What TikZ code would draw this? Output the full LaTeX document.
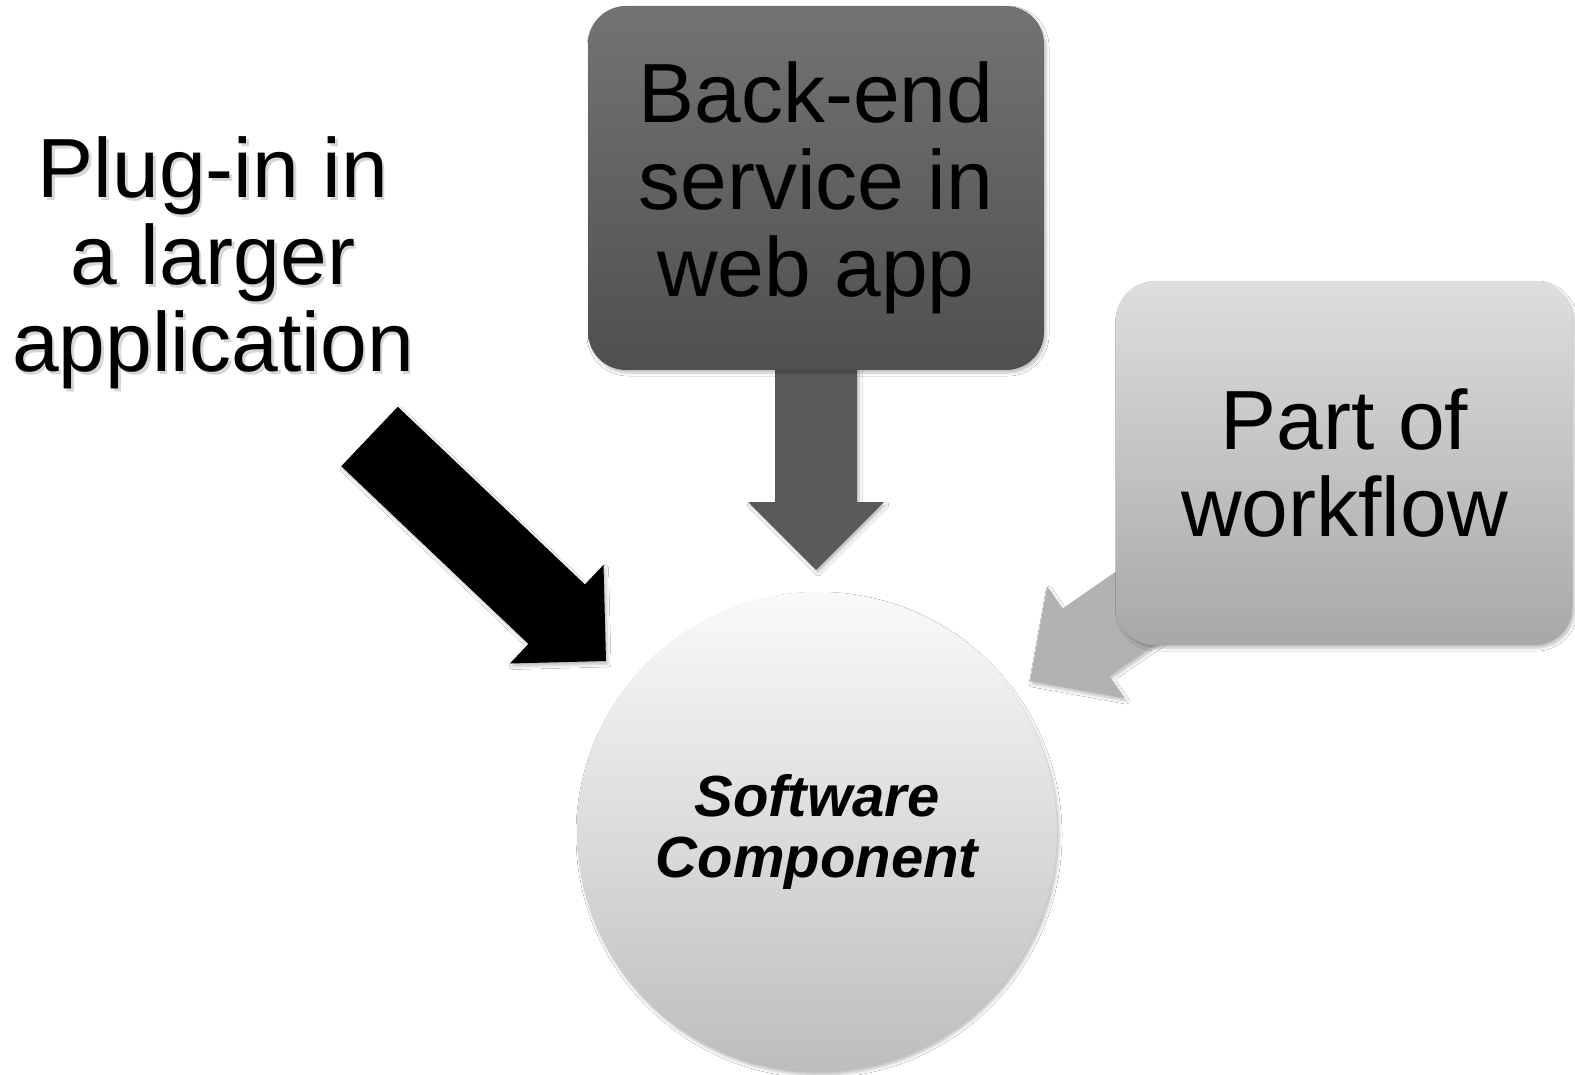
\documentclass[tikz,border=0pt]{standalone}
\usepackage{fontspec}
\setmainfont{Liberation Sans}
\usetikzlibrary{calc,shadows.blur,backgrounds}
\definecolor{darktop}{HTML}{737373}
\definecolor{darkbot}{HTML}{4F4F4F}
\definecolor{darkarrow}{HTML}{5A5A5A}
\definecolor{lighttop}{HTML}{DEDEDE}
\definecolor{lightbot}{HTML}{A8A8A8}
\definecolor{lightarrow}{HTML}{B2B2B2}
\definecolor{circtop}{HTML}{FAFAFA}
\definecolor{circbot}{HTML}{BDBDBD}
\newcommand\blockarrow[3]{%
  \coordinate (ba-b) at ($(#3)!68pt!(#2)$);
  \path[#1] ($(#2)!41pt!90:(#3)$) -- ($(ba-b)!41pt!90:(#3)$) -- ($(ba-b)!68pt!90:(#3)$)
    -- (#3) -- ($(ba-b)!68pt!-90:(#3)$) -- ($(ba-b)!41pt!-90:(#3)$) -- ($(#2)!41pt!-90:(#3)$) -- cycle;}
\begin{document}
\begin{tikzpicture}[x=1pt,y=-1pt,
  bigtext/.style={font=\fontsize{84}{87}\selectfont, align=center, inner sep=0pt},
  softshadow/.style={blur shadow={shadow xshift=2pt, shadow yshift=-3pt, shadow blur radius=3pt, shadow opacity=25}},
  roundbox/.style={rounded corners=38pt, minimum width=456pt, minimum height=364pt, inner sep=0pt, softshadow},
  darkbox/.style={roundbox, top color=darktop, bottom color=darkbot},
  lightbox/.style={roundbox, top color=lighttop, bottom color=lightbot},
  centre/.style={circle, minimum size=480pt, inner sep=0pt, top color=circtop, bottom color=circbot, softshadow,
    font=\fontsize{58}{61}\selectfont\bfseries\itshape, align=center},
  blackarrow/.style={fill=black, softshadow},
  greyarrow/.style={fill=darkarrow, softshadow},
  palearrow/.style={fill=lightarrow, softshadow}
]
\useasboundingbox (0,0) rectangle (1575,1075);

% nodes
\node[bigtext, text=black!40, text opacity=0.4] (plugsh) at (215.5,266) {Plug-in in\\a larger\\application};
\node[bigtext] (plug) at (213,263) {Plug-in in\\a larger\\application};
\node[darkbox, bigtext] (be) at (816,188) {Back-end\\service in\\web app};
\node[lightbox, bigtext] (pw) at (1344.5,463) {Part of\\workflow};
\node[centre] (sc) at (817,832) {Software\\Component};

\coordinate (plugtail) at (369.5,436.5);
\coordinate (plugtip) at (606,661);
\coordinate (betip) at (816,570);
\coordinate (pwtip) at (1030,681);

\begin{pgfonlayer}{background}
\fill[white] (0,0) rectangle (1575,1075);
\blockarrow{blackarrow}{plugtail}{plugtip}
\blockarrow{greyarrow}{be.center}{betip}
\blockarrow{palearrow}{pw.center}{pwtip}
\end{pgfonlayer}
\end{tikzpicture}
\end{document}
